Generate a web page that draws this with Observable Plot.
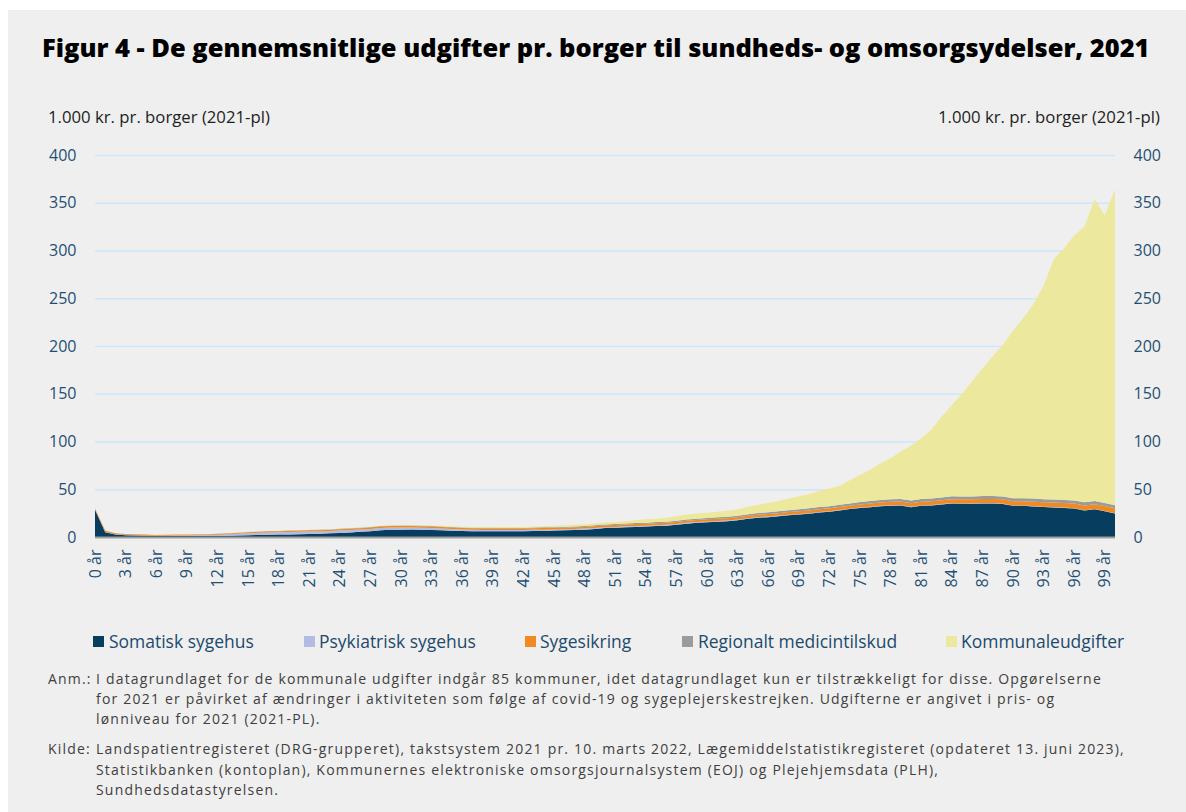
<!DOCTYPE html>
<html>
<head>
<meta charset="utf-8">
<script src="https://cdn.jsdelivr.net/npm/d3@7"></script>
<script src="https://cdn.jsdelivr.net/npm/@observablehq/plot@0.6"></script>
<style>
  html, body { margin: 0; padding: 0; background: #ffffff; }
  #root { position: relative; width: 1186px; height: 812px; overflow: hidden; font-family: "Open Sans", sans-serif; }
  #panel { position: absolute; left: 8px; top: 10px; width: 1178px; height: 802px; background: #efefef; }
  .abs { position: absolute; white-space: nowrap; }
  #title { font-weight: 800; color: #000; font-size: 23px; line-height: 30px; }
  .ylab { color: #1e1e1e; font-size: 15px; line-height: 20px; }
  .leg { color: #1c4a6e; font-size: 16px; line-height: 20px; }
  .sq { position: absolute; width: 11px; height: 11px; }
  .note { color: #404040; font-size: 14px; line-height: 16px; }
  #chart { position: absolute; left: 0; top: 130px; }
</style>
</head>
<body>
<div id="root">
  <div id="panel"></div>
  <div id="title" class="abs">Figur 4 - De gennemsnitlige udgifter pr. borger til sundheds- og omsorgsydelser, 2021</div>
  <div id="ylabL" class="abs ylab">1.000 kr. pr. borger (2021-pl)</div>
  <div id="ylabR" class="abs ylab">1.000 kr. pr. borger (2021-pl)</div>
  <div id="chart"></div>
  <div id="legend"></div>
  <div id="notes"></div>
</div>
<script>
// ---------------- DATA (1.000 kr. pr. borger, 2021-pl), ages 0..100 ----------------
const ages = d3.range(0, 101);
const xTickAges = [0, 3, 6, 9, 12, 15, 18, 21, 24, 27, 30, 33, 36, 39, 42, 45, 48, 51, 54, 57, 60, 63, 66, 69, 72, 75, 78, 81, 84, 87, 90, 93, 96, 99];
const yTicks = [0, 50, 100, 150, 200, 250, 300, 350, 400];

const seriesNames = ["Somatisk sygehus", "Psykiatrisk sygehus", "Sygesikring", "Regionalt medicintilskud", "Kommunaleudgifter"];

const somatisk = [
  28.5, 5.0, 2.6, 1.9, 1.6, 1.4, 1.0, 1.0, 1.0, 1.1,
  1.1, 1.2, 1.3, 1.4, 1.6, 1.9, 2.1, 2.3, 2.5, 2.7,
  2.9, 3.2, 3.4, 3.8, 4.3, 4.8, 5.4, 6.1, 7.0, 7.5,
  7.7, 7.8, 7.6, 7.3, 7.0, 6.6, 6.2, 6.0, 5.9, 5.9,
  5.9, 6.0, 6.0, 6.2, 6.4, 6.7, 7.0, 7.3, 7.7, 8.4,
  9.3, 9.6, 10.2, 10.5, 10.9, 11.4, 11.8, 12.7, 14.0, 14.8,
  15.4, 16.0, 16.5, 17.5, 19.0, 20.2, 20.8, 21.8, 22.8, 23.6,
  24.4, 25.6, 26.4, 27.8, 29.2, 30.4, 31.2, 32.2, 32.8, 33.0,
  31.2, 32.6, 33.0, 34.0, 35.0, 34.7, 34.8, 35.0, 35.0, 34.6,
  32.6, 32.6, 32.0, 31.3, 30.9, 30.4, 29.9, 27.8, 29.0, 27.0,
  24.5
];
const psykiatrisk = [
  0.1, 0.2, 0.2, 0.2, 0.2, 0.3, 0.3, 0.4, 0.5, 0.6,
  0.7, 0.8, 1.0, 1.3, 1.7, 2.0, 2.3, 2.5, 2.5, 2.5,
  2.5, 2.5, 2.4, 2.4, 2.4, 2.4, 2.4, 2.4, 2.4, 2.4,
  2.3, 2.2, 2.1, 2.0, 1.9, 1.8, 1.7, 1.6, 1.5, 1.5,
  1.4, 1.4, 1.3, 1.3, 1.3, 1.2, 1.2, 1.1, 1.1, 1.1,
  1.0, 1.0, 1.0, 1.0, 1.0, 0.9, 0.9, 0.9, 0.8, 0.8,
  0.8, 0.8, 0.7, 0.7, 0.7, 0.7, 0.7, 0.6, 0.6, 0.6,
  0.6, 0.6, 0.6, 0.5, 0.5, 0.5, 0.5, 0.5, 0.5, 0.5,
  0.5, 0.5, 0.5, 0.5, 0.5, 0.5, 0.5, 0.5, 0.5, 0.4,
  0.4, 0.4, 0.4, 0.4, 0.4, 0.4, 0.3, 0.3, 0.3, 0.3,
  0.3
];
const sygesikring = [
  1.2, 1.4, 1.0, 0.9, 0.9, 0.8, 0.8, 0.8, 0.8, 0.8,
  0.8, 0.8, 0.8, 0.9, 0.9, 1.0, 1.0, 1.1, 1.1, 1.2,
  1.2, 1.3, 1.3, 1.3, 1.4, 1.4, 1.4, 1.5, 1.5, 1.5,
  1.5, 1.5, 1.5, 1.5, 1.5, 1.5, 1.5, 1.5, 1.5, 1.5,
  1.5, 1.5, 1.5, 1.6, 1.6, 1.6, 1.6, 1.7, 1.7, 1.8,
  1.8, 1.9, 1.9, 2.0, 2.0, 2.1, 2.1, 2.1, 2.2, 2.2,
  2.3, 2.3, 2.4, 2.4, 2.5, 2.5, 2.6, 2.6, 2.7, 2.8,
  2.8, 2.9, 3.0, 3.0, 3.1, 3.2, 3.3, 3.4, 3.5, 3.6,
  3.7, 3.8, 3.9, 4.0, 4.1, 4.2, 4.2, 4.3, 4.4, 4.4,
  4.5, 4.5, 4.6, 4.7, 4.7, 4.8, 4.9, 5.0, 5.1, 5.2,
  5.3
];
const medicintilskud = [
  0.1, 0.1, 0.1, 0.1, 0.1, 0.1, 0.1, 0.2, 0.2, 0.2,
  0.2, 0.2, 0.2, 0.3, 0.3, 0.3, 0.3, 0.3, 0.3, 0.4,
  0.4, 0.4, 0.4, 0.4, 0.5, 0.5, 0.5, 0.5, 0.5, 0.5,
  0.5, 0.5, 0.6, 0.6, 0.6, 0.6, 0.6, 0.7, 0.7, 0.7,
  0.7, 0.7, 0.7, 0.8, 0.8, 0.8, 0.8, 0.9, 0.9, 0.9,
  1.0, 1.0, 1.0, 1.1, 1.1, 1.2, 1.2, 1.3, 1.4, 1.4,
  1.5, 1.5, 1.6, 1.7, 1.7, 1.8, 1.9, 1.9, 2.0, 2.1,
  2.2, 2.2, 2.3, 2.4, 2.4, 2.5, 2.6, 2.6, 2.7, 2.7,
  2.8, 2.8, 2.9, 2.9, 3.0, 3.0, 3.0, 3.1, 3.1, 3.1,
  3.2, 3.2, 3.2, 3.2, 3.2, 3.2, 3.2, 3.2, 3.2, 3.1,
  3.1
];
const kommunal = [
  0.0, 0.1, 0.1, 0.1, 0.1, 0.1, 0.1, 0.1, 0.1, 0.1,
  0.1, 0.1, 0.1, 0.1, 0.1, 0.2, 0.2, 0.2, 0.2, 0.2,
  0.3, 0.3, 0.3, 0.3, 0.3, 0.3, 0.4, 0.4, 0.5, 0.5,
  0.6, 0.6, 0.6, 0.6, 0.7, 0.7, 0.7, 0.8, 0.8, 0.9,
  0.9, 1.0, 1.0, 1.1, 1.2, 1.5, 1.6, 1.7, 1.9, 2.0,
  2.1, 2.3, 2.4, 3.0, 3.6, 3.6, 4.1, 4.6, 5.1, 5.4,
  5.4, 5.9, 6.3, 6.7, 7.7, 8.6, 9.5, 10.7, 12.2, 13.5,
  14.8, 17.0, 18.5, 19.8, 24.3, 28.2, 32.7, 38.6, 43.0, 49.7,
  57.3, 63.8, 72.2, 84.6, 95.4, 107.6, 120.5, 133.6, 146.0, 158.5,
  175.3, 188.3, 203.8, 223.4, 251.8, 263.2, 277.7, 288.7, 316.4, 301.4,
  330.8
];

const seriesColors = ["#073e5f", "#b2bce2", "#f28a22", "#9b9b9b", "#ece89d"];
const seriesValues = [somatisk, psykiatrisk, sygesikring, medicintilskud, kommunal];

// long table for the library
const rows = [];
seriesNames.forEach((name, i) => {
  ages.forEach((a, j) => rows.push({ age: a, series: name, value: seriesValues[i][j] }));
});

// ---------------- CHART ----------------
const chart = Plot.plot({
  width: 1186,
  height: 470,
  marginLeft: 95,
  marginRight: 71,
  marginTop: 25,
  marginBottom: 63,
  style: { background: "transparent", fontFamily: "Open Sans, sans-serif", fontSize: "16px", color: "#1f4f74" },
  x: { type: "linear", domain: [0, 100] },
  y: { domain: [0, 400] },
  color: { domain: seriesNames, range: seriesColors },
  marks: [
    Plot.ruleY(yTicks.filter(d => d > 0), { stroke: "#cde6f8", strokeWidth: 1.5 }),
    Plot.areaY(rows, { x: "age", y: "value", z: "series", fill: "series", order: seriesNames }),
    Plot.ruleY([0], { stroke: "#9e9e9e", strokeWidth: 2 }),
    Plot.axisY({ anchor: "left", ticks: yTicks, tickSize: 0, tickPadding: 19, label: null, fontSize: 16 }),
    Plot.axisY({ anchor: "right", ticks: yTicks, tickSize: 0, tickPadding: 18, label: null, fontSize: 16 }),
    Plot.axisX({ ticks: xTickAges, tickFormat: d => `${d} år`, tickRotate: -90, tickSize: 0, tickPadding: 12, label: null, fontSize: 16 })
  ]
});
document.getElementById("chart").appendChild(chart);

// ---------------- TEXT LAYOUT ----------------
function place(el, left, centerY) {
  const lh = parseFloat(getComputedStyle(el).lineHeight);
  el.style.left = left + "px";
  el.style.top = (centerY - lh / 2) + "px";
}
function fitTo(el, w) {
  const cur = el.getBoundingClientRect().width;
  const fs = parseFloat(getComputedStyle(el).fontSize);
  el.style.fontSize = (fs * w / cur) + "px";
}

const title = document.getElementById("title");
fitTo(title, 1108);
place(title, 42, 47);

const yl = document.getElementById("ylabL");
fitTo(yl, 222);
place(yl, 48, 117);
const yr = document.getElementById("ylabR");
fitTo(yr, 222);
place(yr, 938, 117);

// legend
const legend = document.getElementById("legend");
const legSquareX = [93, 304, 525, 682, 946];
const legTextX = [109, 319, 540, 698, 961];
const legTextW = [146, 156, 92, 198, 163];
const legEls = [];
seriesNames.forEach((name, i) => {
  const sq = document.createElement("div");
  sq.className = "sq";
  sq.style.background = seriesColors[i];
  sq.style.left = legSquareX[i] + "px";
  sq.style.top = (641 - 5.5) + "px";
  legend.appendChild(sq);
  const t = document.createElement("div");
  t.className = "abs leg";
  t.textContent = name;
  legend.appendChild(t);
  legEls.push(t);
});
{
  let ratio = 0;
  legEls.forEach((t, i) => { ratio += legTextW[i] / t.getBoundingClientRect().width; });
  ratio /= legEls.length;
  legEls.forEach((t, i) => {
    t.style.fontSize = (16 * ratio) + "px";
    place(t, legTextX[i], 641);
  });
}

// notes: fixed 14px font, letter-spacing tuned so line widths match the reference
const notes = document.getElementById("notes");
const noteLabels = [["Anm.:", 679], ["Kilde:", 749]];
const noteLines = [
  ["I datagrundlaget for de kommunale udgifter indgår 85 kommuner, idet datagrundlaget kun er tilstrækkeligt for disse. Opgørelserne", 679, 1022],
  ["for 2021 er påvirket af ændringer i aktiviteten som følge af covid-19 og sygeplejerskestrejken. Udgifterne er angivet i pris- og", 699, 957],
  ["lønniveau for 2021 (2021-PL).", 719, 212],
  ["Landspatientregisteret (DRG-grupperet), takstsystem 2021 pr. 10. marts 2022, Lægemiddelstatistikregisteret (opdateret 13. juni 2023),", 749, 1014],
  ["Statistikbanken (kontoplan), Kommunernes elektroniske omsorgsjournalsystem (EOJ) og Plejehjemsdata (PLH),", 770, 851],
  ["Sundhedsdatastyrelsen.", 790, 189]
];
const noteEls = [];
noteLines.forEach(([txt]) => {
  const t = document.createElement("div");
  t.className = "abs note";
  t.textContent = txt;
  notes.appendChild(t);
  noteEls.push(t);
});
let extra = 0, chars = 0;
noteEls.forEach((t, i) => {
  extra += noteLines[i][2] - t.getBoundingClientRect().width;
  chars += noteLines[i][0].length;
});
const ls = Math.max(0, extra / chars);
noteEls.forEach((t, i) => {
  t.style.letterSpacing = ls + "px";
  place(t, 96, noteLines[i][1]);
});
noteLabels.forEach(([txt, y]) => {
  const t = document.createElement("div");
  t.className = "abs note";
  t.textContent = txt;
  t.style.letterSpacing = ls + "px";
  notes.appendChild(t);
  place(t, 48, y);
});
</script>
</body>
</html>
